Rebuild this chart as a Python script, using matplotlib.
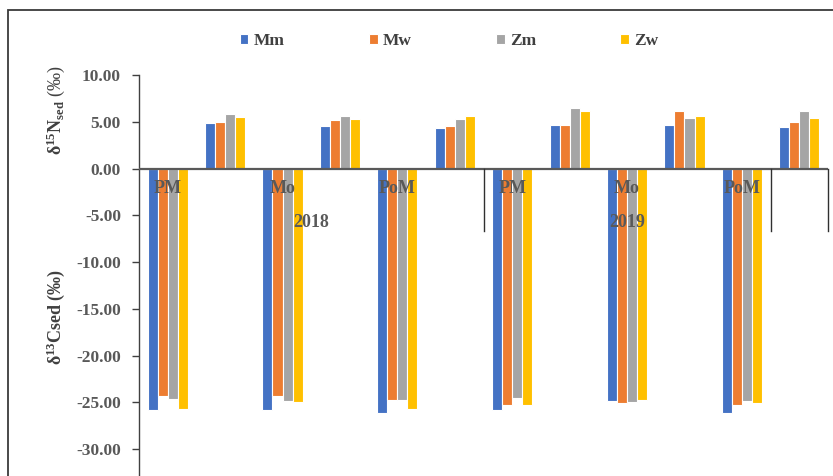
import matplotlib.pyplot as plt
import numpy as np
from matplotlib.patches import Rectangle

plt.rcParams['font.family'] = ['Liberation Serif', 'DejaVu Serif']
plt.rcParams['mathtext.fontset'] = 'custom'
plt.rcParams['mathtext.rm'] = 'Liberation Serif'
plt.rcParams['mathtext.bf'] = 'Liberation Serif:bold'
plt.rcParams['mathtext.it'] = 'Liberation Serif:italic'

# one category per season and isotope: carbon (negative) then nitrogen (positive)
season_labels = ['PM', '', 'Mo', '', 'PoM', '', 'PM', '', 'Mo', '', 'PoM', '']
year_labels = ['2018', '2019']
series = ['Mm', 'Mw', 'Zm', 'Zw']

mm = [-25.8, 4.9, -25.8, 4.5, -26.2, 4.3, -25.8, 4.65, -24.85, 4.65, -26.2, 4.4]
mw = [-24.35, 5.0, -24.3, 5.15, -24.75, 4.55, -25.25, 4.65, -25.1, 6.2, -25.25, 5.0]
zm = [-24.7, 5.85, -24.9, 5.65, -24.75, 5.25, -24.5, 6.45, -25.0, 5.35, -24.85, 6.1]
zw = [-25.7, 5.5, -25.0, 5.25, -25.7, 5.65, -25.25, 6.2, -24.75, 5.6, -25.1, 5.35]

colors = ['#4472C4', '#ED7D31', '#A5A5A5', '#FFC000']
gray = '#595959'

W, H = 833, 476
fig = plt.figure(figsize=(W / 100, H / 100), dpi=100)

# chart area border
fig.add_artist(Rectangle((7.5 / W, -0.1), 1.2, 1.1 - 9.5 / H, transform=fig.transFigure,
                         fill=False, edgecolor='#3a3a3a', lw=1.3))

y_top, y_bot = 75, 495.75
ax = fig.add_axes([139 / W, 1 - y_bot / H, 689 / W, (y_bot - y_top) / H])

x = np.arange(len(season_labels))
bw = 0.175
for i, (name, vals) in enumerate(zip(series, [mm, mw, zm, zw])):
    ax.bar(x + (i - 1.5) * bw, vals, width=bw, color=colors[i], edgecolor='white',
           linewidth=0.8, label=name, zorder=2)

ax.set_xlim(-0.5, 11.5)
ax.set_ylim(-35, 10)
ax.set_yticks(np.arange(-30, 10.1, 5))
ax.set_yticklabels([f'{v:.2f}' for v in np.arange(-30, 10.1, 5)])
ax.set_xticks([])
ax.axhline(0, color=gray, lw=1.6, zorder=3)

for s in ['top', 'right', 'bottom']:
    ax.spines[s].set_visible(False)
ax.spines['left'].set_color('#404040')
ax.spines['left'].set_linewidth(1.0)
ax.tick_params(axis='y', length=5, width=1, color='#404040', pad=8,
               labelsize=12.5, labelcolor=gray)
for t in ax.get_yticklabels():
    t.set_fontweight('bold')

# season labels along the zero line, year labels below
for xi, lab in zip(x, season_labels):
    if lab:
        ax.text(xi, -2.1, lab, ha='center', va='center', fontsize=13,
                fontweight='bold', color=gray, zorder=4)
ax.text(2.5, -5.8, year_labels[0], ha='center', va='center', fontsize=13,
        fontweight='bold', color=gray, zorder=4)
ax.text(8.0, -5.8, year_labels[1], ha='center', va='center', fontsize=13,
        fontweight='bold', color=gray, zorder=4)
for xd in [5.5, 10.5, 11.5]:
    ax.plot([xd, xd], [0, -6.7], color='#303030', lw=1.0, zorder=3, clip_on=False)

fig.text(56 / W, 1 - 110 / H, r'$\mathbf{\delta^{15}N_{sed}}$ (‰)', rotation=90,
         ha='center', va='center', fontsize=13, color='#404040')
fig.text(56 / W, 1 - 317 / H, r'$\mathbf{\delta^{13}Csed\ (‰)}$', rotation=90,
         ha='center', va='center', fontsize=13, color='#404040')

leg = fig.legend(loc='center', bbox_to_anchor=(449 / W, 1 - 41 / H), ncol=4,
                 frameon=False, handlelength=0.5, handleheight=0.5,
                 handletextpad=0.3, columnspacing=4.85,
                 prop={'weight': 'bold', 'size': 12.5})
for t in leg.get_texts():
    t.set_color('#404040')

fig.savefig('out.png', dpi=100)
